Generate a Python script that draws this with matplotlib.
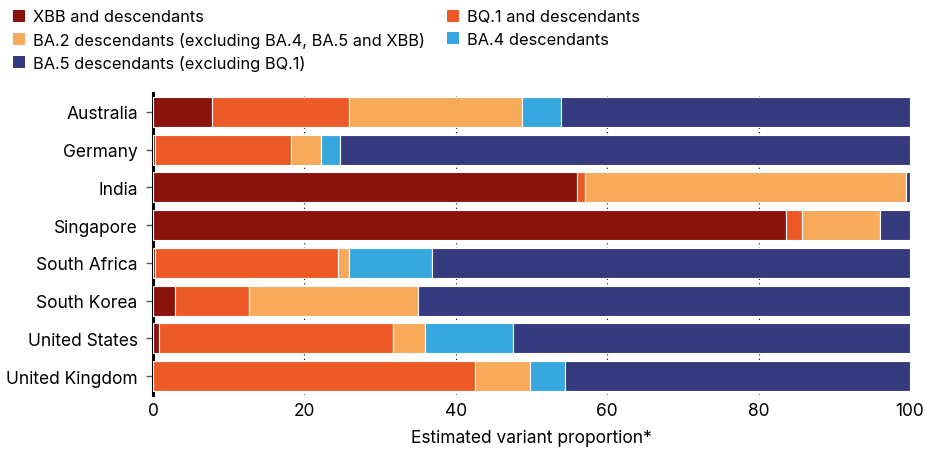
import numpy as np
import matplotlib.pyplot as plt
from matplotlib.patches import Patch

plt.rcParams['font.family'] = ['Inter', 'DejaVu Sans']

countries = ["Australia", "Germany", "India", "Singapore", "South Africa",
             "South Korea", "United States", "United Kingdom"]

xbb = [7.8, 0.2, 56.0, 83.6, 0.3, 2.9, 0.8, 0.0]
bq1 = [18.1, 18.0, 1.1, 2.1, 24.1, 9.8, 30.9, 42.6]
ba2 = [22.8, 4.0, 42.4, 10.3, 1.5, 22.3, 4.2, 7.2]
ba4 = [5.2, 2.5, 0.0, 0.0, 10.9, 0.0, 11.7, 4.6]
ba5 = [46.1, 75.3, 0.5, 4.0, 63.2, 65.0, 52.4, 45.6]

series = [
    ("XBB and descendants", xbb, "#8a140c"),
    ("BQ.1 and descendants", bq1, "#ec5b27"),
    ("BA.2 descendants (excluding BA.4, BA.5 and XBB)", ba2, "#f7aa5a"),
    ("BA.4 descendants", ba4, "#37a8df"),
    ("BA.5 descendants (excluding BQ.1)", ba5, "#363a7e"),
]

fig = plt.figure(figsize=(9.25, 4.52), dpi=100)
ax = fig.add_axes([153 / 925, 1 - 396 / 452, 757 / 925, 302 / 452])

y = np.arange(len(countries))
left = np.zeros(len(countries))
for name, vals, color in series:
    vals = np.array(vals)
    ax.barh(y, vals, left=left, height=0.8, color=color,
            edgecolor="white", linewidth=0.8, zorder=3, label=name)
    left += vals

ax.set_xlim(0, 100)
ax.set_ylim(len(countries) - 0.5, -0.5)
ax.set_yticks(y)
ax.set_yticklabels(countries, fontsize=12.5)
ax.set_xticks([0, 20, 40, 60, 80, 100])
ax.tick_params(axis="x", length=0, labelsize=12.5, pad=5)
ax.tick_params(axis="y", length=5, width=1, color="#555555", pad=6)
ax.set_xlabel("Estimated variant proportion*", fontsize=12.5, labelpad=7)

for s in ["top", "right", "bottom"]:
    ax.spines[s].set_visible(False)
ax.spines["left"].set_linewidth(2.2)
ax.spines["left"].set_color("black")

ax.grid(axis="x", linestyle=(0, (1, 3)), color="black", linewidth=0.8, zorder=0)

# legend laid out column-first, so reorder to read row by row
order = [0, 2, 4, 1, 3]
handles = [Patch(facecolor=series[i][2], edgecolor="none") for i in order]
labels = [series[i][0] for i in order]
fig.legend(handles, labels, ncol=2, loc="upper left", bbox_to_anchor=(-0.002, 1.01),
           frameon=False, fontsize=11.8, handlelength=0.75, handleheight=0.75,
           handletextpad=0.5, columnspacing=1.3, labelspacing=0.45)

plt.savefig("out.png", dpi=100)
plt.close()
